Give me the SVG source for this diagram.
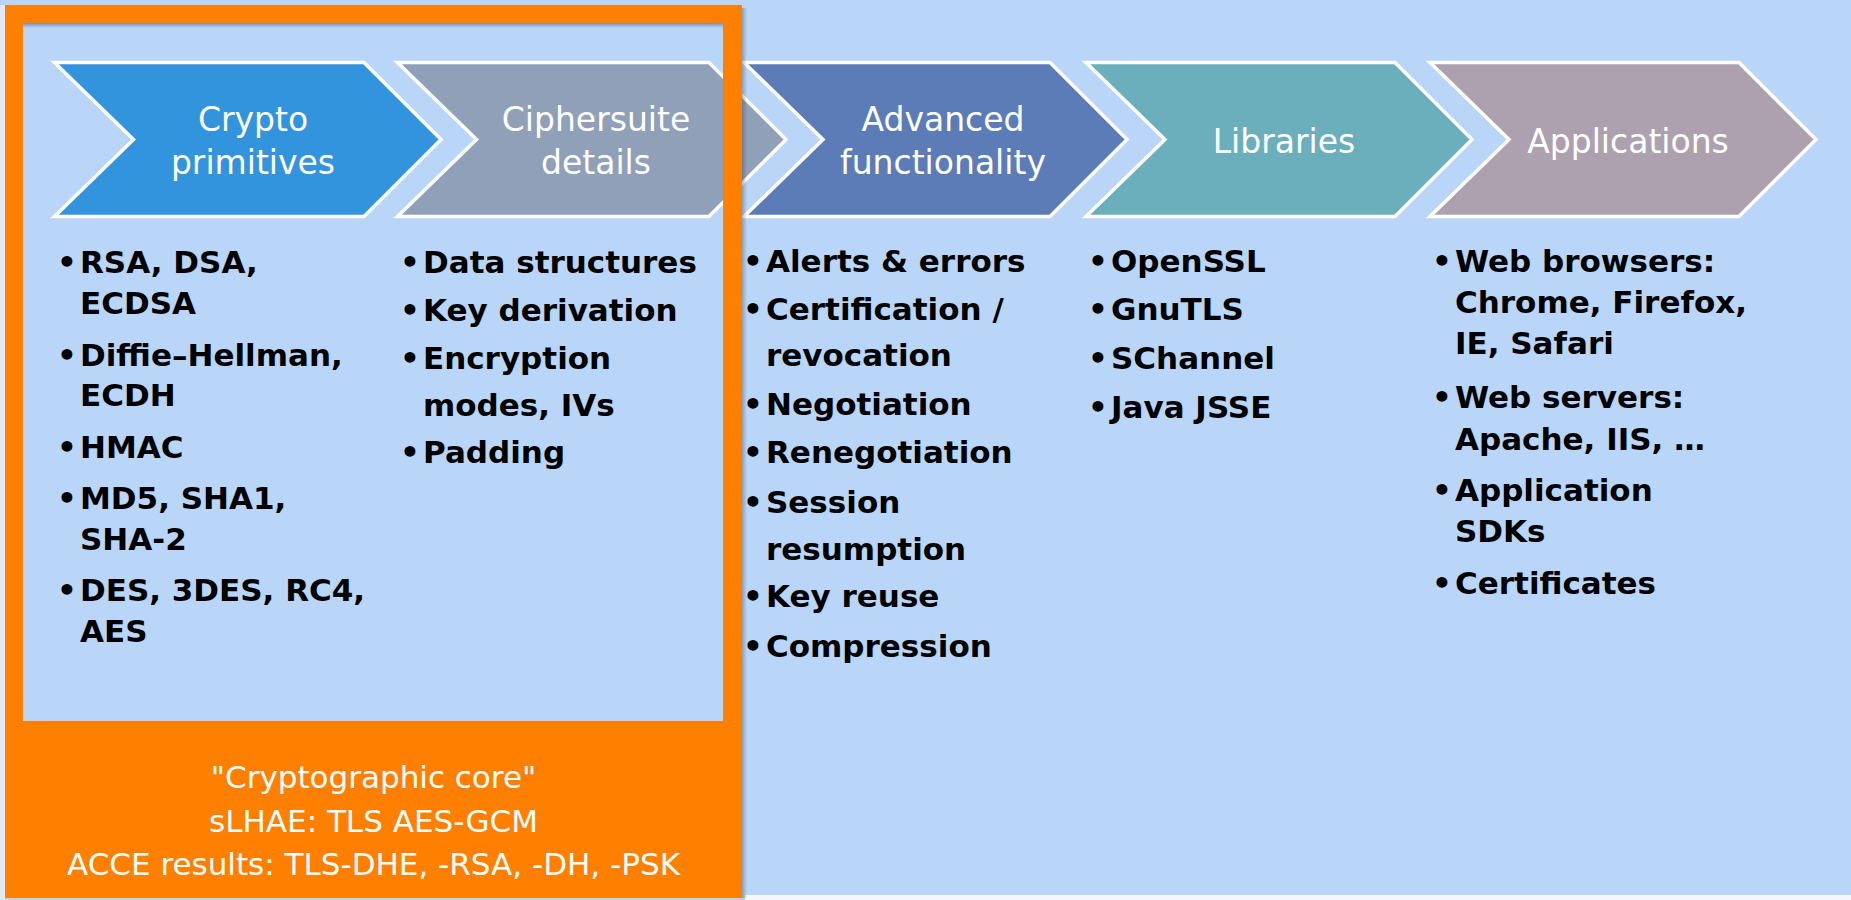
<svg xmlns="http://www.w3.org/2000/svg" width="1851" height="900" viewBox="0 0 1851 900">
<style>
.chev{stroke:#ffffff;stroke-width:3.5;stroke-linejoin:miter}
.lbl{font-family:"DejaVu Sans","Liberation Sans",sans-serif;font-size:33px;fill:#ffffff;text-anchor:middle}
.body{font-family:"DejaVu Sans","Liberation Sans",sans-serif;font-weight:bold;font-size:31px;fill:#000000}
.bul{font-family:"DejaVu Sans","Liberation Sans",sans-serif;font-weight:bold;font-size:31px;fill:#000000;text-anchor:middle}
.core{font-family:"DejaVu Sans","Liberation Sans",sans-serif;font-size:31px;fill:#ffffff;text-anchor:middle}
</style>
<defs>
<linearGradient id="shTop" x1="0" y1="0" x2="0" y2="1">
<stop offset="0" stop-color="#303850" stop-opacity="0.45"/>
<stop offset="1" stop-color="#303850" stop-opacity="0"/>
</linearGradient>
<linearGradient id="shRight" x1="0" y1="0" x2="1" y2="0">
<stop offset="0" stop-color="#303850" stop-opacity="0.35"/>
<stop offset="1" stop-color="#303850" stop-opacity="0"/>
</linearGradient>
</defs>
<g id="background">
<rect x="0" y="0" width="1851" height="900" fill="#B9D5F7"/>
<rect x="0" y="5" width="5" height="895" fill="#E2E9F2"/>
<rect x="745" y="895" width="1106" height="5" fill="#F4F7FB"/>
</g>
<g id="connectors"/>
<g id="chevron-crypto">
<polygon class="chev" fill="#3294DD" points="54.5,62.5 364,62.5 441,139.5 364,216.5 54.5,216.5 133.5,139.5"/>
<text class="lbl" x="253" y="131">Crypto</text>
<text class="lbl" x="253" y="174">primitives</text>
</g>
<g id="chevron-ciphersuite">
<polygon class="chev" fill="#8FA0B8" points="397.5,62.5 709,62.5 786,139.5 709,216.5 397.5,216.5 476.5,139.5"/>
<text class="lbl" x="596" y="131">Ciphersuite</text>
<text class="lbl" x="596" y="174">details</text>
</g>
<g id="chevron-advanced">
<polygon class="chev" fill="#5C7CB8" points="744,62.5 1050,62.5 1127,139.5 1050,216.5 744,216.5 823,139.5"/>
<text class="lbl" x="943" y="131">Advanced</text>
<text class="lbl" x="943" y="174">functionality</text>
</g>
<g id="chevron-libraries">
<polygon class="chev" fill="#6BAFBC" points="1086,62.5 1395,62.5 1472,139.5 1395,216.5 1086,216.5 1165,139.5"/>
<text class="lbl" x="1284" y="153">Libraries</text>
</g>
<g id="chevron-applications">
<polygon class="chev" fill="#ADA1AF" points="1430,62.5 1739,62.5 1816,139.5 1739,216.5 1430,216.5 1509,139.5"/>
<text class="lbl" x="1628" y="153">Applications</text>
</g>
<g id="list-crypto">
<text class="bul" x="67" y="273">•</text><text class="body" x="80" y="273">RSA, DSA,</text>
<text class="body" x="80" y="314">ECDSA</text>
<text class="bul" x="67" y="366">•</text><text class="body" x="80" y="366">Diffie–Hellman,</text>
<text class="body" x="80" y="406">ECDH</text>
<text class="bul" x="67" y="458">•</text><text class="body" x="80" y="458">HMAC</text>
<text class="bul" x="67" y="509">•</text><text class="body" x="80" y="509">MD5, SHA1,</text>
<text class="body" x="80" y="550">SHA-2</text>
<text class="bul" x="67" y="601">•</text><text class="body" x="80" y="601">DES, 3DES, RC4,</text>
<text class="body" x="80" y="642">AES</text>
</g>
<g id="list-ciphersuite">
<text class="bul" x="410" y="273">•</text><text class="body" x="423" y="273">Data structures</text>
<text class="bul" x="410" y="321">•</text><text class="body" x="423" y="321">Key derivation</text>
<text class="bul" x="410" y="369">•</text><text class="body" x="423" y="369">Encryption</text>
<text class="body" x="423" y="416">modes, IVs</text>
<text class="bul" x="410" y="463">•</text><text class="body" x="423" y="463">Padding</text>
</g>
<g id="list-advanced">
<text class="bul" x="753" y="272">•</text><text class="body" x="766" y="272">Alerts &amp; errors</text>
<text class="bul" x="753" y="320">•</text><text class="body" x="766" y="320">Certification /</text>
<text class="body" x="766" y="366">revocation</text>
<text class="bul" x="753" y="415">•</text><text class="body" x="766" y="415">Negotiation</text>
<text class="bul" x="753" y="463">•</text><text class="body" x="766" y="463">Renegotiation</text>
<text class="bul" x="753" y="513">•</text><text class="body" x="766" y="513">Session</text>
<text class="body" x="766" y="560">resumption</text>
<text class="bul" x="753" y="607">•</text><text class="body" x="766" y="607">Key reuse</text>
<text class="bul" x="753" y="657">•</text><text class="body" x="766" y="657">Compression</text>
</g>
<g id="list-libraries">
<text class="bul" x="1098" y="272">•</text><text class="body" x="1111" y="272">OpenSSL</text>
<text class="bul" x="1098" y="320">•</text><text class="body" x="1111" y="320">GnuTLS</text>
<text class="bul" x="1098" y="369">•</text><text class="body" x="1111" y="369">SChannel</text>
<text class="bul" x="1098" y="418">•</text><text class="body" x="1111" y="418">Java JSSE</text>
</g>
<g id="list-applications">
<text class="bul" x="1442" y="272">•</text><text class="body" x="1455" y="272">Web browsers:</text>
<text class="body" x="1455" y="313">Chrome, Firefox,</text>
<text class="body" x="1455" y="354">IE, Safari</text>
<text class="bul" x="1442" y="408">•</text><text class="body" x="1455" y="408">Web servers:</text>
<text class="body" x="1455" y="450">Apache, IIS, …</text>
<text class="bul" x="1442" y="501">•</text><text class="body" x="1455" y="501">Application</text>
<text class="body" x="1455" y="542">SDKs</text>
<text class="bul" x="1442" y="594">•</text><text class="body" x="1455" y="594">Certificates</text>
</g>
<g id="cryptographic-core">
<rect x="742" y="8" width="5" height="890" fill="url(#shRight)"/>
<path fill="#FF7F00" fill-rule="evenodd" d="M5,5 H742 V898 H5 Z M23,23 V721 H723 V23 Z"/>
<rect x="23" y="23" width="700" height="5" fill="url(#shTop)"/>
<text class="core" x="373.5" y="788">"Cryptographic core"</text>
<text class="core" x="373.5" y="832">sLHAE: TLS AES-GCM</text>
<text class="core" x="373.5" y="875">ACCE results: TLS-DHE, -RSA, -DH, -PSK</text>
</g>
</svg>
